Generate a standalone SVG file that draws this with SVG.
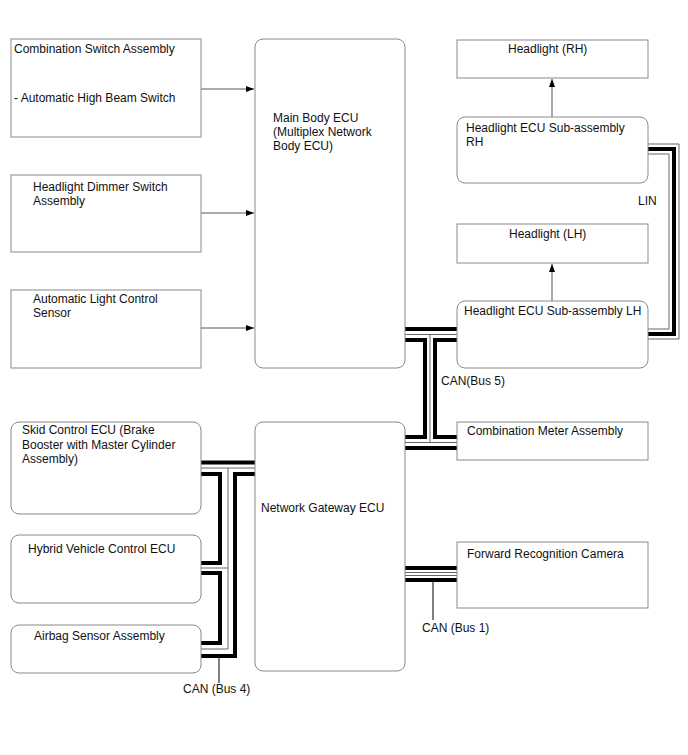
<svg xmlns="http://www.w3.org/2000/svg" width="688" height="755" viewBox="0 0 688 755">
<defs>
<marker id="ah" viewBox="0 0 8 6" refX="8" refY="3" markerWidth="8" markerHeight="6" markerUnits="userSpaceOnUse" orient="auto">
<path d="M0,0 L8,3 L0,6 Z" fill="#000"/>
</marker>
<style>
.box{fill:#fff;stroke:#8a8a8a;stroke-width:1}
.t{font-family:"Liberation Sans",Arial,sans-serif;font-size:12px;fill:#111}
.arr{stroke:#555;stroke-width:1;fill:none;marker-end:url(#ah)}
.thk{stroke:#000;stroke-width:4;fill:none}
.thn{stroke:#666;stroke-width:1;fill:none}
.ldr{stroke:#000;stroke-width:1;fill:none}
</style>
</defs>
<rect width="688" height="755" fill="#fff"/>

<g id="connectors">
<!-- arrows -->
<path class="arr" d="M201,89 H254"/>
<path class="arr" d="M201,213 H254"/>
<path class="arr" d="M201,328 H254"/>
<path class="arr" d="M552,117 V79"/>
<path class="arr" d="M552,301 V264"/>
<!-- LIN -->
<path class="thn" d="M648,144 H679 V339 H648"/>
<path class="thk" d="M648,149 H674 V334 H648"/>
<path class="thn" d="M648,154 H669 V329 H648"/>
<!-- CAN Bus 5 -->
<path class="thk" d="M405,329 H457"/>
<path class="thn" d="M405,334.5 H457"/>
<path class="thk" d="M405,340 H425 V437 H405"/>
<path class="thk" d="M457,340 H435 V437 H457"/>
<path class="thn" d="M430,334.5 V442.5"/>
<path class="thn" d="M405,442.5 H457"/>
<path class="thk" d="M405,448 H457"/>
<!-- CAN Bus 1 -->
<path class="thk" d="M405,568 H457"/>
<path class="thn" d="M405,572.5 H457"/>
<path class="thn" d="M405,575.5 H457"/>
<path class="thk" d="M405,580 H457"/>
<path class="ldr" d="M433,582 V620"/>
<!-- CAN Bus 4 -->
<path class="thk" d="M201,462.5 H255"/>
<path class="thn" d="M201,468 H255"/>
<path class="thn" d="M228,468 V649"/>
<path class="thk" d="M255,474 H235 V656 H201"/>
<path class="thk" d="M201,474 H220 V563 H201"/>
<path class="thn" d="M201,568 H228"/>
<path class="thk" d="M201,573 H220 V643 H201"/>
<path class="thn" d="M201,649 H228"/>
<path class="ldr" d="M219,658 V683"/>
<text class="t" x="638" y="205">LIN</text>
<text class="t" x="441" y="385">CAN(Bus 5)</text>
<text class="t" x="422" y="632">CAN (Bus 1)</text>
<text class="t" x="183" y="693">CAN (Bus 4)</text>
</g>

<g id="combination-switch">
<rect class="box" x="11" y="39" width="190" height="98"/>
<text class="t" x="14" y="53">Combination Switch Assembly</text>
<text class="t" x="14" y="102">- Automatic High Beam Switch</text>
</g>
<g id="dimmer-switch">
<rect class="box" x="11" y="175" width="190" height="77"/>
<text class="t" x="33" y="191">Headlight Dimmer Switch</text>
<text class="t" x="33" y="205">Assembly</text>
</g>
<g id="light-sensor">
<rect class="box" x="11" y="290" width="190" height="78"/>
<text class="t" x="33" y="303">Automatic Light Control</text>
<text class="t" x="33" y="317">Sensor</text>
</g>
<g id="main-body-ecu">
<rect class="box" x="255" y="39" width="150" height="329" rx="8"/>
<text class="t" x="273" y="122">Main Body ECU</text>
<text class="t" x="273" y="136">(Multiplex Network</text>
<text class="t" x="273" y="150">Body ECU)</text>
</g>
<g id="headlight-rh">
<rect class="box" x="457" y="40" width="191" height="38"/>
<text class="t" x="508" y="53">Headlight (RH)</text>
</g>
<g id="headlight-ecu-rh">
<rect class="box" x="457" y="117" width="191" height="66" rx="8"/>
<text class="t" x="466" y="132">Headlight ECU Sub-assembly</text>
<text class="t" x="466" y="146">RH</text>
</g>
<g id="headlight-lh">
<rect class="box" x="457" y="224" width="191" height="39"/>
<text class="t" x="509" y="238">Headlight (LH)</text>
</g>
<g id="headlight-ecu-lh">
<rect class="box" x="457" y="301" width="191" height="67" rx="8"/>
<text class="t" x="464" y="315">Headlight ECU Sub-assembly LH</text>
</g>
<g id="combination-meter">
<rect class="box" x="457" y="422" width="191" height="38"/>
<text class="t" x="467" y="435">Combination Meter Assembly</text>
</g>
<g id="network-gateway-ecu">
<rect class="box" x="255" y="422" width="150" height="249" rx="8"/>
<text class="t" x="261" y="512">Network Gateway ECU</text>
</g>
<g id="skid-control-ecu">
<rect class="box" x="11" y="422" width="190" height="92" rx="8"/>
<text class="t" x="22" y="434">Skid Control ECU (Brake</text>
<text class="t" x="22" y="448.5">Booster with Master Cylinder</text>
<text class="t" x="22" y="463">Assembly)</text>
</g>
<g id="hybrid-ecu">
<rect class="box" x="11" y="535" width="190" height="68" rx="8"/>
<text class="t" x="28" y="553">Hybrid Vehicle Control ECU</text>
</g>
<g id="airbag-sensor">
<rect class="box" x="11" y="625" width="190" height="48" rx="8"/>
<text class="t" x="34" y="640">Airbag Sensor Assembly</text>
</g>
<g id="forward-camera">
<rect class="box" x="457" y="542" width="191" height="66"/>
<text class="t" x="467" y="558">Forward Recognition Camera</text>
</g>
</svg>
